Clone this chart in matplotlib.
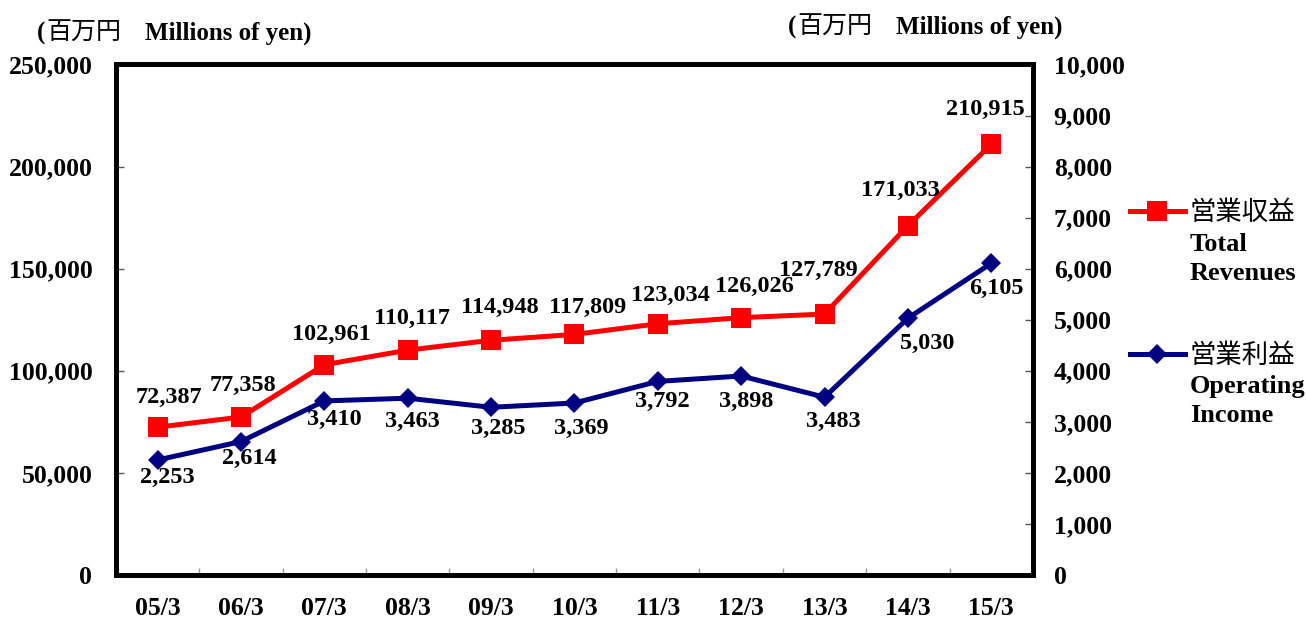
import numpy as np
import matplotlib
matplotlib.use("Agg")
from matplotlib import pyplot as plt

plt.rcParams['font.family'] = ['Liberation Serif', 'Noto Sans CJK JP']
plt.rcParams['font.weight'] = 'bold'

years = ['05/3', '06/3', '07/3', '08/3', '09/3', '10/3', '11/3', '12/3', '13/3', '14/3', '15/3']
revenues = [72387, 77358, 102961, 110117, 114948, 117809, 123034, 126026, 127789, 171033, 210915]
op_income = [2253, 2614, 3410, 3463, 3285, 3369, 3792, 3898, 3483, 5030, 6105]

# label offsets in pixels (dx, dy)
rev_off = [(11, 30), (2, 32), (7, 30), (4, 32), (9, 33), (13, 27), (13, 28), (13, 31), (-6, 44), (-8, 35), (-6, 35)]
inc_off = [(10, -17), (8, -17), (10, -19), (5, -23), (7, -21), (7, -25), (5, -20), (5, -25), (9, -24), (19, -25), (5, -25)]

fig = plt.figure(figsize=(13.06, 6.19), dpi=100)
ax = fig.add_axes([0.0888, 0.0711, 0.7021, 0.8247])
ax2 = ax.twinx()

x = np.arange(len(years))
red = '#FF0000'
navy = '#000080'

l1, = ax.plot(x, revenues, color=red, lw=3.6, marker='s', ms=14.5, mew=0, zorder=3)
l2, = ax2.plot(x, op_income, color=navy, lw=3.6, marker='D', ms=10.5, mew=0, zorder=3)

for i, v in enumerate(revenues):
    ax.annotate(f'{v:,}', (x[i], v), xytext=rev_off[i], textcoords='offset pixels',
                ha='center', va='center', fontsize=17.5, fontweight='bold')
for i, v in enumerate(op_income):
    ax2.annotate(f'{v:,}', (x[i], v), xytext=inc_off[i], textcoords='offset pixels',
                 ha='center', va='center', fontsize=17.5, fontweight='bold')

ax.set_xlim(-0.5, len(years) - 0.5)
ax.set_ylim(0, 250000)
ax2.set_ylim(0, 10000)
ax.set_yticks(np.arange(0, 250001, 50000))
ax2.set_yticks(np.arange(0, 10001, 1000))
ax.set_yticklabels([f'{v:,}' for v in np.arange(0, 250001, 50000)])
ax2.set_yticklabels([f'{v:,}' for v in np.arange(0, 10001, 1000)])

ax.set_xticks(x)
ax.set_xticklabels(years)
ax.set_xticks(np.arange(0.5, len(years) - 1, 1), minor=True)
ax.tick_params(axis='x', which='major', length=0, pad=16, labelsize=18.5)
ax.tick_params(axis='x', which='minor', direction='in', length=5, width=1, color='#999999')
ax.tick_params(axis='y', direction='in', length=6, width=1, color='#555555', pad=17, labelsize=18.5)
ax2.tick_params(axis='y', direction='in', length=6, width=1, color='#555555', pad=15, labelsize=18.5)

for a in (ax, ax2):
    for s in a.spines.values():
        s.set_linewidth(3.4)
        s.set_color('black')

W, H = 1306, 619
cjk = {'family': 'Noto Sans CJK JP', 'weight': 'normal', 'size': 18}
# unit captions: "(百万円  Millions of yen)" on both sides
for px, base in [(37, 40), (788, 34)]:
    fig.text(px / W, 1 - base / H, '(', fontsize=18, fontweight='bold', va='baseline')
    fig.text((px + 9) / W, 1 - base / H, '百万円', fontdict=cjk, va='baseline')
    fig.text((px + 108) / W, 1 - base / H, 'Millions of yen)', fontsize=18, fontweight='bold',
             va='baseline')

fig.legend([l1, l2], ['営業収益', '営業利益'], loc='upper left',
           bbox_to_anchor=(1130 / W, 1 - 199 / H), frameon=False,
           handlelength=2.08, handletextpad=0.19, borderpad=0, borderaxespad=0,
           labelspacing=4.4, prop={'family': 'Noto Sans CJK JP', 'weight': 'normal', 'size': 19})
fig.text(1190 / W, 1 - 259 / H, 'Total\nRevenues', fontsize=19, fontweight='bold',
         ha='left', va='center', linespacing=1.3)
fig.text(1190 / W, 1 - 401 / H, 'Operating\nIncome', fontsize=19, fontweight='bold',
         ha='left', va='center', linespacing=1.3)

fig.savefig('out.png', dpi=100)
